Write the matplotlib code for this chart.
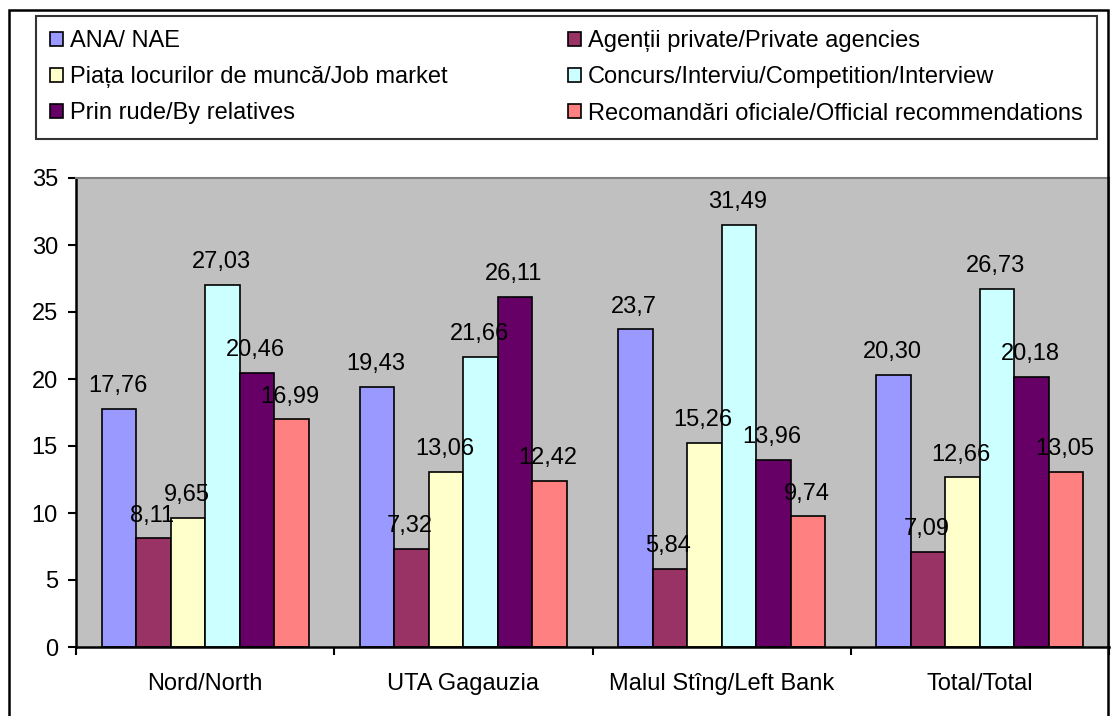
import numpy as np
import matplotlib.pyplot as plt
from matplotlib.patches import Rectangle

plt.rcParams['font.family'] = ['Liberation Sans', 'DejaVu Sans']

regions = ['Nord/North', 'UTA Gagauzia', 'Malul Stîng/Left Bank', 'Total/Total']
series = ['ANA/ NAE', 'Agenții private/Private agencies',
          'Piața locurilor de muncă/Job market', 'Concurs/Interviu/Competition/Interview',
          'Prin rude/By relatives', 'Recomandări oficiale/Official recommendations']
colors = ['#9999FF', '#993366', '#FFFFCC', '#CCFFFF', '#660066', '#FF8080']

ana = [17.76, 19.43, 23.7, 20.30]
agentii = [8.11, 7.32, 5.84, 7.09]
piata = [9.65, 13.06, 15.26, 12.66]
concurs = [27.03, 21.66, 31.49, 26.73]
rude = [20.46, 26.11, 13.96, 20.18]
recom = [16.99, 12.42, 9.74, 13.05]
values = [ana, agentii, piata, concurs, rude, recom]

fig = plt.figure(figsize=(11.12, 7.16), dpi=100)
ax = fig.add_axes([76/1112, 1-647/716, (1109-76)/1112, (647-178)/716])
ax.set_facecolor('#C0C0C0')

x = np.arange(len(regions))
w = 0.1336
fs = 17
handles = []
for i, (vals, col) in enumerate(zip(values, colors)):
    pos = x + (i - 2.5) * w
    bars = ax.bar(pos, vals, w, color=col, edgecolor='black', linewidth=1.2)
    handles.append(bars)
    for p, v in zip(pos, vals):
        lab = ('%.2f' % v).replace('.', ',') if v != 23.7 else '23,7'
        ax.annotate(lab, (p, v), xytext=(-1, 12), textcoords='offset points',
                    ha='center', va='baseline', fontsize=fs)

ax.set_xlim(-0.5, 3.5)
ax.set_ylim(0, 35)
ax.set_yticks(range(0, 36, 5))
ax.set_xticks(x)
ax.set_xticklabels(regions, fontsize=fs)
ax.set_xticks(np.arange(-0.5, 4, 1), minor=True)
ax.tick_params(axis='x', which='major', length=0, pad=19)
ax.tick_params(axis='x', which='minor', length=6, width=1.5, direction='out')
ax.tick_params(axis='y', length=6, width=1.5, direction='out', labelsize=fs, pad=7)
for s in ['left', 'bottom']:
    ax.spines[s].set_linewidth(1.8)
for s in ['top', 'right']:
    ax.spines[s].set_color('#808080')
    ax.spines[s].set_linewidth(1.5)

order = [0, 2, 4, 1, 3, 5]
fig.legend([handles[i] for i in order], [series[i] for i in order], ncol=2,
           loc='upper left', bbox_to_anchor=(36/1112, 1-16/716, (1097-36)/1112, 0.0),
           mode='expand', fontsize=fs, frameon=True, fancybox=False, edgecolor='black',
           handlelength=0.55, handleheight=0.55, handletextpad=0.3, labelspacing=0.6,
           borderaxespad=0, borderpad=0.6, columnspacing=1.0)
fig.legends[0].get_frame().set_linewidth(1.5)

fig.patches.append(Rectangle((9/1112, -0.05), (1108-9)/1112, 1.05 - 10/716,
                             transform=fig.transFigure, fill=False,
                             edgecolor='black', linewidth=1.8))

fig.savefig('out.png', dpi=100)
